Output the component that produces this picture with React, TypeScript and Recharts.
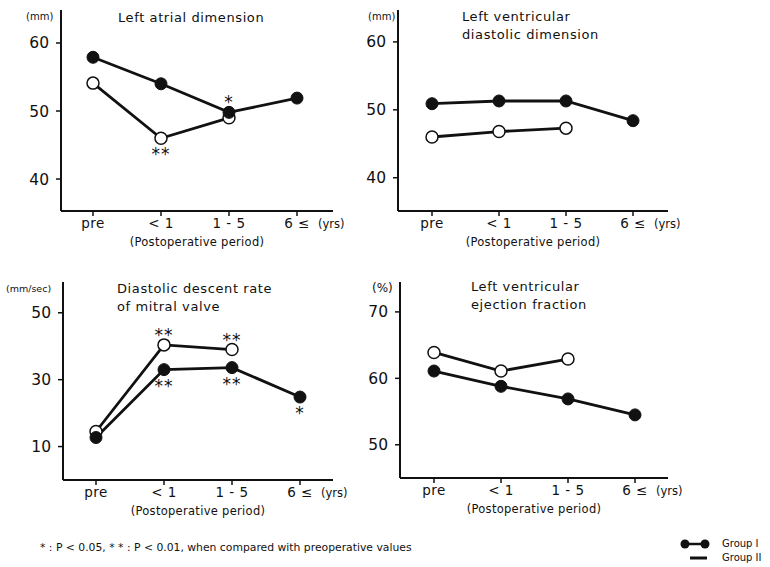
import React from 'react';
import { LineChart, Line, XAxis, YAxis, Label } from 'recharts';

const periods = ['pre', '< 1', '1 - 5', '6 ≤'];

// Left atrial dimension (mm)
const laGroupI = [57.9, 54.0, 49.8, 51.9];
const laGroupII = [54.1, 46.0, 49.0, null];
const laStarsI = ['', '', '*', ''];
const laStarsII = ['', '**', '', ''];
const laTicks = [40, 50, 60];

// Left ventricular diastolic dimension (mm)
const lvddGroupI = [50.9, 51.3, 51.3, 48.4];
const lvddGroupII = [46.0, 46.8, 47.3, null];
const lvddTicks = [40, 50, 60];

// Diastolic descent rate of mitral valve (mm/sec)
const ddrGroupI = [12.7, 33.0, 33.6, 24.8];
const ddrGroupII = [14.5, 40.4, 39.0, null];
const ddrStarsI = ['', '**', '**', '*'];
const ddrStarsII = ['', '**', '**', ''];
const ddrTicks = [10, 30, 50];

// Left ventricular ejection fraction (%)
const efGroupI = [61.1, 58.8, 56.9, 54.5];
const efGroupII = [63.9, 61.1, 62.9, null];
const efTicks = [50, 60, 70];

const FONT = '"DejaVu Sans", sans-serif';
const INK = '#111';

const PeriodTick = ({ x, y, payload }: any) => {
    const last = payload.value === periods[periods.length - 1];
    return (
        <g>
            <text x={x} y={y + 10} textAnchor="middle" fontSize={13.5} fontFamily={FONT} fill={INK} letterSpacing={0.5}>{payload.value}</text>
            {last && <text x={x + 21} y={y + 10} fontSize={11.5} fontFamily={FONT} fill={INK}>(yrs)</text>}
        </g>
    );
};

const starLabel = (stars: string[], pos: 'above' | 'below') => (props: any) => {
    const { x, y, index } = props;
    const s = stars[index];
    if (!s || y == null) return null;
    return (
        <text key={`s${index}`} x={x} y={pos === 'above' ? y - 4 : y + 22} textAnchor="middle"
            fontSize={17} fontFamily={FONT} fill={INK} letterSpacing={1}>{s}</text>
    );
};

interface PanelProps {
    rect: { left: number; top: number; right: number; bottom: number };
    groupI: (number | null)[];
    groupII: (number | null)[];
    starsI?: string[];
    starsII?: string[];
    starsIPos?: 'above' | 'below';
    starsIIPos?: 'above' | 'below';
    domain: [number, number];
    ticks: number[];
    pad: { left: number; right: number };
}

function Panel({ rect, groupI, groupII, starsI, starsII, starsIPos = 'above', starsIIPos = 'below', domain, ticks, pad }: PanelProps) {
    const w = rect.right - rect.left;
    const h = rect.bottom - rect.top;
    const data = periods.map((p, i) => ({ period: p, g1: groupI[i], g2: groupII[i] }));
    return (
        <div style={{ position: 'absolute', left: rect.left - 61, top: rect.top - 10 }}>
            <LineChart width={w + 61 + 45} height={h + 10 + 40} data={data} margin={{ top: 10, right: 45, left: 0, bottom: 0 }}>
                <XAxis dataKey="period" height={40} padding={pad} tick={<PeriodTick />} tickSize={5}
                    axisLine={{ stroke: INK, strokeWidth: 2 }} tickLine={{ stroke: INK, strokeWidth: 1.5 }} interval={0}>
                    <Label value="(Postoperative period)" position="insideBottom" offset={5} fontSize={11.5} fontFamily={FONT} fill={INK} letterSpacing={0.3} />
                </XAxis>
                <YAxis type="number" domain={domain} ticks={ticks} allowDataOverflow width={61} tickSize={5} tickMargin={7}
                    axisLine={{ stroke: INK, strokeWidth: 2 }} tickLine={{ stroke: INK, strokeWidth: 1.5 }}
                    tick={{ fill: INK, fontSize: 15.5, fontFamily: FONT }} />
                <Line dataKey="g2" stroke={INK} strokeWidth={2.8} isAnimationActive={false}
                    dot={{ r: 6, fill: '#fff', stroke: INK, strokeWidth: 1.5 }}
                    label={starsII ? starLabel(starsII, starsIIPos) : false} />
                <Line dataKey="g1" stroke={INK} strokeWidth={2.8} isAnimationActive={false}
                    dot={{ r: 6, fill: INK, stroke: INK, strokeWidth: 1 }}
                    label={starsI ? starLabel(starsI, starsIPos) : false} />
            </LineChart>
        </div>
    );
}

const T = (p: any) => <text fontFamily={FONT} fill={INK} {...p} />;

export default function App() {
    return (
        <div style={{ position: 'absolute', left: 0, top: 0, width: 770, height: 567, background: '#fff', overflow: 'hidden' }}>
            <Panel rect={{ left: 61, top: 10, right: 333, bottom: 211 }} groupI={laGroupI} groupII={laGroupII}
                starsI={laStarsI} starsII={laStarsII} starsIPos="above" starsIIPos="below"
                domain={[35.3, 64.85]} ticks={laTicks} pad={{ left: 32, right: 36 }} />
            <Panel rect={{ left: 398, top: 10, right: 668, bottom: 211 }} groupI={lvddGroupI} groupII={lvddGroupII}
                domain={[35.1, 64.7]} ticks={lvddTicks} pad={{ left: 34, right: 35 }} />
            <Panel rect={{ left: 63, top: 282, right: 333, bottom: 480 }} groupI={ddrGroupI} groupII={ddrGroupII}
                starsI={ddrStarsI} starsII={ddrStarsII} starsIPos="below" starsIIPos="above"
                domain={[0, 59.2]} ticks={ddrTicks} pad={{ left: 33, right: 33 }} />
            <Panel rect={{ left: 400, top: 282, right: 668, bottom: 478 }} groupI={efGroupI} groupII={efGroupII}
                domain={[45.0, 74.5]} ticks={efTicks} pad={{ left: 34, right: 33 }} />

            <svg width={770} height={567} style={{ position: 'absolute', left: 0, top: 0, pointerEvents: 'none' }}>
                <T x={26} y={20} fontSize={10}>(mm)</T>
                <T x={118} y={22} fontSize={13} letterSpacing={0.6}>Left atrial dimension</T>

                <T x={368} y={20} fontSize={10}>(mm)</T>
                <T x={462} y={21} fontSize={13} letterSpacing={0.6}>Left ventricular</T>
                <T x={462} y={39} fontSize={13} letterSpacing={0.6}>diastolic dimension</T>

                <T x={6} y={292} fontSize={9.5}>(mm/sec)</T>
                <T x={117} y={293} fontSize={13} letterSpacing={0.6}>Diastolic descent rate</T>
                <T x={117} y={311} fontSize={13} letterSpacing={0.6}>of mitral valve</T>

                <T x={372} y={292} fontSize={12}>(%)</T>
                <T x={471} y={291} fontSize={13} letterSpacing={0.6}>Left ventricular</T>
                <T x={471} y={309} fontSize={13} letterSpacing={0.6}>ejection fraction</T>

                <T x={40} y={551} fontSize={10.8}>* : P &lt; 0.05, * * : P &lt; 0.01,  when compared with preoperative values</T>

                <line x1={685} y1={544} x2={705} y2={544} stroke={INK} strokeWidth={2.5} />
                <circle cx={685} cy={544} r={4.5} fill={INK} />
                <circle cx={705} cy={544} r={4.5} fill={INK} />
                <T x={722} y={547} fontSize={10}>Group I</T>
                <line x1={690} y1={558} x2={707} y2={558} stroke={INK} strokeWidth={3} />
                <T x={722} y={561} fontSize={10}>Group II</T>
            </svg>
        </div>
    );
}
